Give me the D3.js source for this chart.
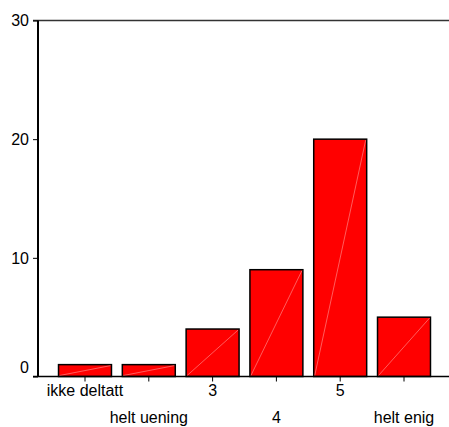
<!DOCTYPE html>
<html><head><meta charset="utf-8">
<script src="https://cdn.jsdelivr.net/npm/d3@7"></script>
<style>body{margin:0;background:#fff}svg{display:block}text{font-family:"Liberation Sans",Arial,sans-serif;font-size:16px;fill:#000}</style>
</head><body><svg id="c" width="449" height="427"></svg>
<script>
const categories = ["ikke deltatt","helt uening","3","4","5","helt enig"];
const values = [1,1,4,9,20,5];
const yTicks = [0,10,20,30];

(function(){
const svg = d3.select("#c");
const pLeft = 38, pRight = 449, pTop = 20.5, pBottom = 376.5;
const y = d3.scaleLinear().domain([0,30]).range([pBottom, pTop]);
const x = d3.scaleBand().domain(categories).range([53.1, 435.9]).paddingInner(0.17).paddingOuter(0.085);

// bars
const g = svg.append("g");
categories.forEach((c,i)=>{
  const x0 = x(c), w = x.bandwidth(), yt = y(values[i]);
  g.append("rect").attr("x", x0).attr("y", yt).attr("width", w).attr("height", pBottom - yt)
    .attr("fill", "#ff0000").attr("stroke", "#000").attr("stroke-width", 1.5);
  g.append("line").attr("x1", x0+1).attr("y1", pBottom-1).attr("x2", x0+w-1).attr("y2", yt+1)
    .attr("stroke", "#ff9a9a").attr("stroke-width", 0.6);
});

// frame lines
svg.append("line").attr("x1", pLeft-5).attr("x2", pRight).attr("y1", pTop).attr("y2", pTop).attr("stroke","#333").attr("stroke-width",1.5);
svg.append("line").attr("x1", pLeft-5).attr("x2", pRight).attr("y1", pBottom).attr("y2", pBottom).attr("stroke","#000").attr("stroke-width",1.5);
svg.append("line").attr("x1", pLeft).attr("x2", pLeft).attr("y1", pTop).attr("y2", pBottom).attr("stroke","#000").attr("stroke-width",2);

// y axis ticks
const ya = svg.append("g").attr("transform", `translate(${pLeft},0)`)
  .call(d3.axisLeft(y).tickValues(yTicks).tickSize(5).tickPadding(4));
ya.select(".domain").remove();
ya.attr("font-size", 16).attr("font-family", null);
ya.selectAll(".tick line").attr("stroke","#000").attr("stroke-width",1);
ya.selectAll(".tick text").style("font-size","16px").attr("fill","#000")
  .attr("dy", d => d === 0 ? "-4.5px" : "0.34em");

// x axis ticks
const xa = svg.append("g").attr("transform", `translate(0,${pBottom})`)
  .call(d3.axisBottom(x).tickSize(5).tickPadding(0));
xa.select(".domain").remove();
xa.attr("font-size", 16).attr("font-family", null);
xa.selectAll(".tick line").attr("stroke","#000").attr("stroke-width",1);
xa.selectAll(".tick text").style("font-size","16px").attr("fill","#000")
  .attr("dy", null).attr("y", (d,i) => i % 2 === 0 ? 19.5 : 46);
})();
</script></body></html>
